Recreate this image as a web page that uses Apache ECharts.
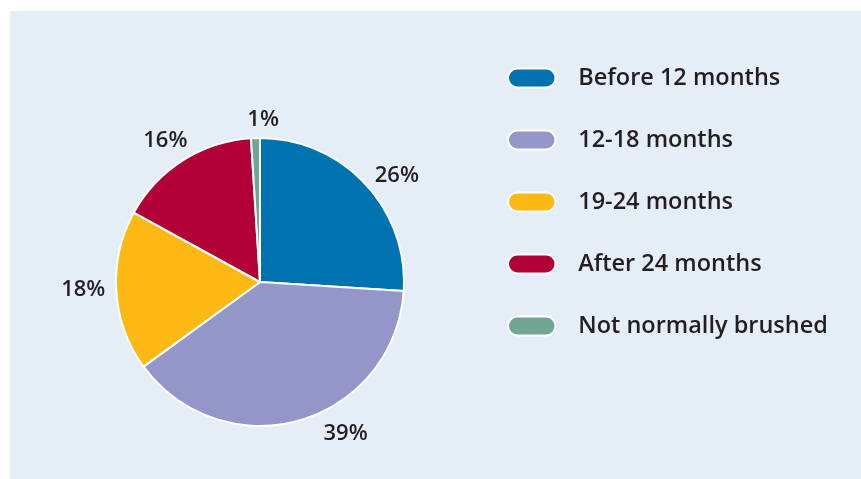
<!DOCTYPE html>
<html>
<head>
<meta charset="utf-8">
<script src="https://cdn.jsdelivr.net/npm/echarts@6/dist/echarts.min.js"></script>
<style>
  html, body { margin: 0; padding: 0; background: #fff; }
  #chart { width: 861px; height: 479px; }
</style>
</head>
<body>
<div id="chart"></div>
<script>
// categories and shares (%)
const categories = ['Before 12 months', '12-18 months', '19-24 months', 'After 24 months', 'Not normally brushed'];
const shares = [26, 39, 18, 16, 1];
const colors = ['#0072b0', '#9496c9', '#fcb813', '#b00035', '#72a593'];

const chart = echarts.init(document.getElementById('chart'));

const pieData = categories.map((name, i) => ({
  name: name,
  value: shares[i],
  itemStyle: { color: colors[i] }
}));

// small hand nudges so the % labels sit where the original put them
const labelNudge = [[-4, 1], [15, 2], [6, -2], [16, -10], [13, -6]];

chart.setOption({
  backgroundColor: '#ffffff',
  textStyle: { fontFamily: 'Open Sans' },
  graphic: [{
    type: 'rect',
    silent: true,
    z: -10,
    shape: { x: 10, y: 11, width: 851, height: 468 },
    style: { fill: '#e5edf7' }
  }],
  legend: {
    orient: 'vertical',
    left: 507,
    top: 66,
    padding: 0,
    itemWidth: 49,
    itemHeight: 19,
    itemGap: 38,
    icon: 'path://M10,0 H40 A10,10 0 0 1 40,20 H10 A10,10 0 0 1 10,0 Z',
    itemStyle: { borderColor: '#ffffff', borderWidth: 2 },
    textStyle: {
      fontSize: 23.5,
      fontWeight: 600,
      color: '#231f20',
      padding: [0, 0, 0, 17]
    },
    data: categories
  },
  series: [{
    type: 'pie',
    center: [260, 282],
    radius: 144,
    startAngle: 90,
    clockwise: true,
    animation: false,
    itemStyle: { borderColor: '#ffffff', borderWidth: 2 },
    label: {
      show: true,
      position: 'outside',
      formatter: '{c}%',
      fontSize: 22,
      fontWeight: 600,
      color: '#231f20'
    },
    labelLine: { show: false, length: 12, length2: 0 },
    labelLayout: function (params) {
      const n = labelNudge[params.dataIndex];
      const o = { dx: n[0], dy: n[1] };
      // the tiny slice's label sits centred above it
      if (params.dataIndex === 4) o.align = 'center';
      return o;
    },
    emphasis: { disabled: true },
    data: pieData
  }]
});
</script>
</body>
</html>
